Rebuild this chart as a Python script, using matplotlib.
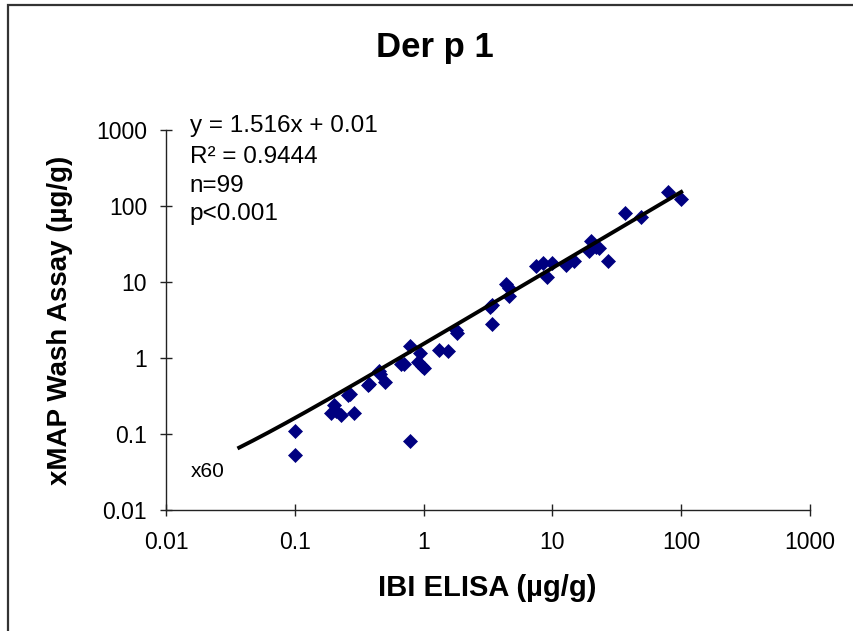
import numpy as np
import matplotlib
matplotlib.use("Agg")
import matplotlib.pyplot as plt
from matplotlib.patches import Rectangle

plt.rcParams['font.family'] = ['Liberation Sans', 'DejaVu Sans']

# IBI ELISA (x) vs xMAP Wash Assay (y), ug/g
elisa = [0.1, 0.1, 0.2, 0.19, 0.21, 0.23, 0.27, 0.26, 0.29, 0.37, 0.38,
         0.45, 0.46, 0.5, 0.67, 0.70, 0.785, 0.785, 0.9, 0.94, 1.0, 0.97,
         1.31, 1.56, 1.82, 1.78, 3.4, 3.4, 3.3, 4.4, 4.6, 4.6, 7.4, 8.5,
         9.0, 10, 12.7, 14.8, 19.2, 20, 21.8, 23, 27, 36.5, 49, 79, 100]
xmap = [0.11, 0.053, 0.24, 0.19, 0.2, 0.175, 0.33, 0.32, 0.19, 0.44, 0.45,
        0.68, 0.62, 0.48, 0.83, 0.83, 1.44, 0.081, 0.89, 1.15, 0.73, 0.78,
        1.27, 1.22, 2.15, 2.3, 2.8, 5.0, 4.6, 9.3, 8.4, 6.5, 15.9, 17.5,
        11.4, 17.5, 16.6, 18.5, 25, 34, 29, 28, 19, 80, 72, 150, 123]

# trendline as given in the chart
slope = 1.516
intercept = 0.01
fit_start, fit_end = 0.037, 100

ticks = [0.01, 0.1, 1, 10, 100, 1000]
tick_labels = ['0.01', '0.1', '1', '10', '100', '1000']

stats = ['y = 1.516x + 0.01', 'R\u00b2 = 0.9444', 'n=99', 'p<0.001']

fig = plt.figure(figsize=(8.54, 6.31), dpi=100)
ax = fig.add_axes([166 / 854, 1 - 510 / 631, 644 / 854, 380.4 / 631])

ax.plot(elisa, xmap, 'D', color='#000080', markersize=7.2,
        markeredgewidth=0.5, markeredgecolor='#000080', zorder=2)

xf = np.logspace(np.log10(fit_start), np.log10(fit_end), 200)
ax.plot(xf, slope * xf + intercept, '-', color='black', linewidth=2.8, zorder=3)

ax.set_xscale('log')
ax.set_yscale('log')
ax.set_xlim(0.01, 1000)
ax.set_ylim(0.01, 1000)
ax.set_xticks(ticks)
ax.set_xticklabels(tick_labels)
ax.set_yticks(ticks)
ax.set_yticklabels(tick_labels)
ax.minorticks_off()
ax.tick_params(axis='both', direction='inout', length=9, width=1,
               labelsize=16.5, color='#222222')
ax.tick_params(axis='x', pad=10.5)
ax.tick_params(axis='y', pad=9)

for side in ['top', 'right']:
    ax.spines[side].set_visible(False)
for side in ['left', 'bottom']:
    ax.spines[side].set_linewidth(1)
    ax.spines[side].set_color('#222222')

# stats block
baselines = [0.9945, 0.9122, 0.836, 0.7624]
for s, yb in zip(stats, baselines):
    ax.text(0.0365, yb, s, transform=ax.transAxes, fontsize=17.5,
            ha='left', va='baseline', clip_on=False)

ax.text(0.065, 0.10, 'x60', transform=ax.transAxes, fontsize=15,
        ha='center', va='center')

fig.text(0.509, 0.9255, 'Der p 1', fontsize=25, fontweight='bold',
         ha='center', va='center')
fig.text(0.570, 0.068, 'IBI ELISA (\u00b5g/g)', fontsize=21,
         fontweight='bold', ha='center', va='center')
fig.text(0.0703, 0.493, 'xMAP Wash Assay (\u00b5g/g)', fontsize=20,
         fontweight='bold', ha='center', va='center', rotation=90)

# outer chart border (only left and top edges fall inside the image)
fig.patches.append(Rectangle((8 / 854, -0.2), 1.2, 1.2 - 5 / 631,
                             transform=fig.transFigure, fill=False,
                             edgecolor='#333333', linewidth=1.6))

fig.savefig('out.png', dpi=100)
